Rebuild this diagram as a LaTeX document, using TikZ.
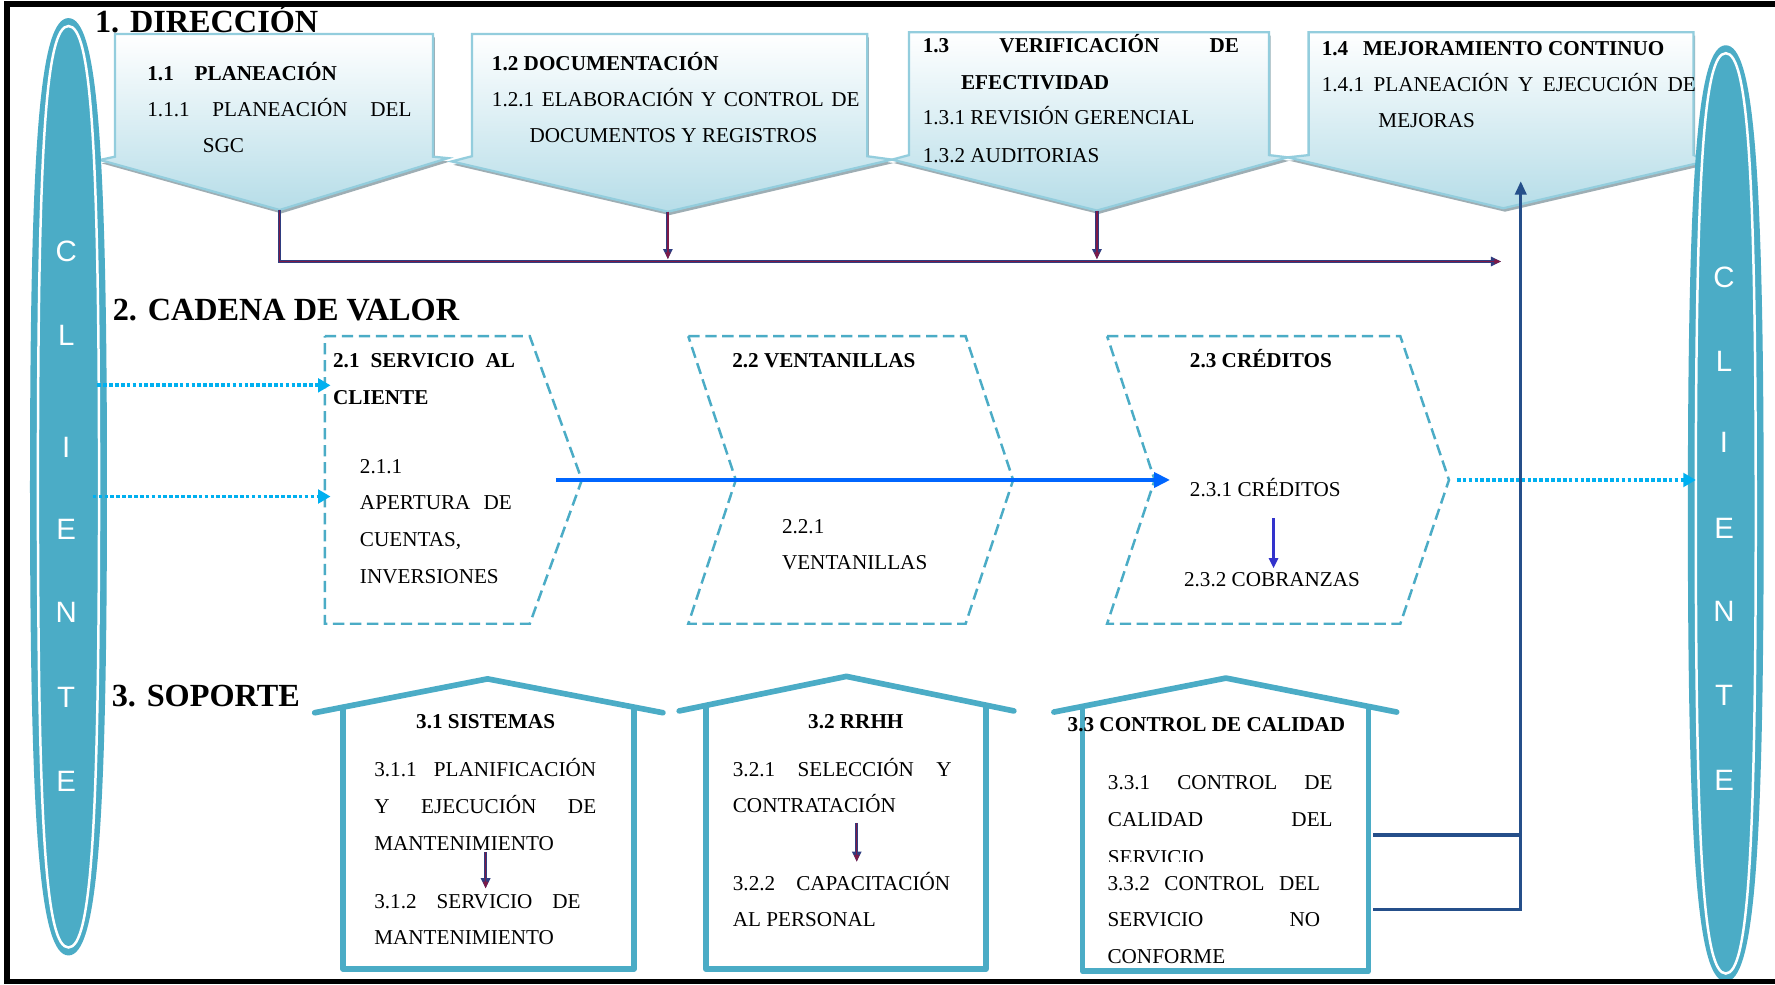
\documentclass[tikz,border=0pt]{standalone}
\usepackage{fontspec}
\setmainfont{Liberation Serif}
\newfontfamily\clientfont{Liberation Sans}
\usetikzlibrary{arrows.meta}

\definecolor{clteal}{HTML}{4BACC6}
\definecolor{callborder}{HTML}{93CDDD}
\definecolor{callbottom}{HTML}{B6DDE8}
\definecolor{callshadow}{HTML}{9EAEB4}
\definecolor{duoouter}{HTML}{2F3D80}
\definecolor{duoinner}{HTML}{7D1A48}
\definecolor{flowblue}{HTML}{0066FF}
\definecolor{skyblue}{HTML}{00B0F0}
\definecolor{stepblue}{HTML}{3333CC}
\definecolor{navyc}{HTML}{254F8A}

\newcommand{\txtsize}{\fontsize{18.7pt}{22pt}\selectfont}
\newcommand{\ttlsize}{\fontsize{28.5pt}{32pt}\selectfont}
% a justified line of given width
\newcommand{\jl}[2]{\makebox[#1pt][s]{#2}}
% elongated rounded body: centre x, centre y, half width, half height, options
\newcommand{\clientbody}[5]{%
  \path[#5] (#1,#2-#4) .. controls (#1+0.74*#3,#2-#4) and (#1+#3,#2-0.74*#4) .. (#1+#3,#2)
    .. controls (#1+#3,#2+0.74*#4) and (#1+0.74*#3,#2+#4) .. (#1,#2+#4)
    .. controls (#1-0.74*#3,#2+#4) and (#1-#3,#2+0.74*#4) .. (#1-#3,#2)
    .. controls (#1-#3,#2-0.74*#4) and (#1-0.74*#3,#2-#4) .. cycle;}
% down-arrow callout with drop shadow
\newcommand{\calloutpath}[1]{%
  \path[callshade, shift={(1.5,3)}] #1;
  \path[callout] #1;}

\tikzset{
  callout/.style={draw=callborder, line width=2pt, top color=white, bottom color=callbottom, line join=miter},
  callshade/.style={fill=callshadow},
  chevron/.style={draw=clteal, line width=2.2pt, dash pattern=on 10pt off 5pt},
  house/.style={draw=clteal, line width=5pt, line cap=round, line join=round},
  duo/.style={draw=duoouter, line width=2.8pt, -{Triangle[length=9pt,width=8pt]},
    postaction={draw=duoinner, line width=1.1pt, -{Triangle[length=6pt,width=4.5pt]}}},
  flowarrow/.style={draw=flowblue, line width=3.5pt, -{Triangle[length=14pt,width=13pt]}},
  skydot/.style={draw=skyblue, line width=3.4pt, dash pattern=on 3.2pt off 2pt, -{Triangle[length=11pt,width=12pt]}},
  steparrow/.style={draw=stepblue, line width=2.5pt, -{Triangle[length=9pt,width=8pt]}},
  navyconn/.style={draw=navyc, line width=2.8pt},
  txt/.style={anchor=base west, inner sep=0pt, font=\txtsize},
  btxt/.style={anchor=base west, inner sep=0pt, font=\txtsize\bfseries},
  ctxt/.style={anchor=base, inner sep=0pt, font=\txtsize\bfseries},
  ttl/.style={anchor=base west, inner sep=0pt, font=\ttlsize\bfseries},
  cl/.style={text=white, inner sep=0pt, font=\clientfont\fontsize{26pt}{28pt}\selectfont},
}

\begin{document}
\begin{tikzpicture}[x=1pt, y=-1pt]
\useasboundingbox (0,0) rectangle (1568,870);
\fill[white] (0,0) rectangle (1568,870);

% ---- 1. Dirección: four down-arrow callouts
\calloutpath{(101.6,30) -- (382.6,30) -- (382.6,138.4) -- (395.8,139.7) -- (247,185.5) -- (88.3,141.3) -- (101.6,138.4) -- cycle}
\calloutpath{(417,30) -- (766,30) -- (766,138) -- (788,141) -- (590,187) -- (399,142.6) -- (417,138) -- cycle}
\calloutpath{(803,28.5) -- (1121,28.5) -- (1121,137) -- (1137.5,139) -- (969,186) -- (788,141) -- (803,137) -- cycle}
\calloutpath{(1156,28.5) -- (1496,28.5) -- (1496,137) -- (1509,142) -- (1328,184) -- (1137.5,139) -- (1156,137) -- cycle}

\coordinate (p1top) at (247,185.5);
\coordinate (p1bend) at (247,231);
\coordinate (p1end) at (1326,231);
\coordinate (p2top) at (590,187);
\coordinate (p2end) at (590,229);
\coordinate (p3top) at (969,186);
\coordinate (p3end) at (969,229);
\draw[duo] (p1top) -- (p1bend) -- (p1end);
\draw[duo] (p2top) -- (p2end);
\draw[duo] (p3top) -- (p3end);

% ---- 2. Cadena de valor: dashed chevrons
\draw[chevron] (287,297) -- (468,297) -- (514,424) -- (468,551) -- (287,551) -- cycle;
\draw[chevron] (608,297) -- (853,297) -- (895,424) -- (853,551) -- (608,551) -- (650,424) -- cycle;
\draw[chevron] (978,297) -- (1237,297) -- (1280,424) -- (1237,551) -- (978,551) -- (1020,424) -- cycle;

\coordinate (flowstart) at (491,424);
\coordinate (flowend) at (1033.6,424);
\draw[flowarrow] (flowstart) -- (flowend);

\coordinate (cr1) at (1125,457.9);
\coordinate (cr2) at (1125,502);
\draw[steparrow] (cr1) -- (cr2);

% ---- 3. Soporte: houses
\draw[house] (278,629.6) -- (430.7,599.7) -- (585.6,629.6);
\draw[house] (303,625) -- (303,856) -- (560,856) -- (560,625);
\draw[house] (600,628) -- (747.7,597.5) -- (895.6,628);
\draw[house] (623.5,624) -- (623.5,856) -- (870.8,856) -- (870.8,624);
\draw[house] (931,629) -- (1083,599) -- (1233.8,629);
\draw[house] (956.3,625) -- (956.3,858) -- (1209,858) -- (1209,625);

\coordinate (h1a) at (429,753);
\coordinate (h1b) at (429,784.8);
\coordinate (h2a) at (756.8,726.8);
\coordinate (h2b) at (756.8,761.2);
\draw[duo] (h1a) -- (h1b);
\draw[duo] (h2a) -- (h2b);

% quality control feeding back to continuous improvement
\coordinate (q1) at (1213,737.6);
\coordinate (q2) at (1213,803.3);
\coordinate (qv1) at (1343.4,737.6);
\coordinate (qv2) at (1343.4,803.3);
\coordinate (qtop) at (1343.4,160);
\draw[navyconn] (q1) -- (qv1);
\draw[navyconn, -{Triangle[length=12pt,width=10pt]}] (q2) -- (qv2) -- (qtop);

% ---- client bodies
\clientbody{60.5}{430}{34}{414}{fill=clteal}
\clientbody{60.5}{430}{27}{407}{draw=white, line width=2.2pt}
\clientbody{1524.5}{453.5}{33.5}{413.5}{fill=clteal}
\clientbody{1524.5}{453.5}{26.5}{406.5}{draw=white, line width=2.2pt}

\node[cl] (lc1) at (58.5,222) {C};
\node[cl] (lc2) at (58.5,296) {L};
\node[cl] (lc3) at (58.5,395) {I};
\node[cl] (lc4) at (58.5,467.5) {E};
\node[cl] (lc5) at (58.5,541) {N};
\node[cl] (lc6) at (58.5,616) {T};
\node[cl] (lc7) at (58.5,690) {E};
\node[cl] (rc1) at (1523,245) {C};
\node[cl] (rc2) at (1523,319.5) {L};
\node[cl] (rc3) at (1523,391) {I};
\node[cl] (rc4) at (1523,466.6) {E};
\node[cl] (rc5) at (1523,540) {N};
\node[cl] (rc6) at (1523,614) {T};
\node[cl] (rc7) at (1523,689) {E};

% dotted flows from and to the client
\coordinate (d1s) at (86,340.4);
\coordinate (d1e) at (292,340.4);
\coordinate (d2s) at (82,438.6);
\coordinate (d2e) at (292,438.6);
\coordinate (d3s) at (1287,424);
\coordinate (d3e) at (1498,424);
\draw[skydot] (d1s) -- (d1e);
\draw[skydot] (d2s) -- (d2e);
\draw[skydot] (d3s) -- (d3e);

% ---- texts
\node[ttl] (ttl1) at (83.8,29) {1. DIRECCIÓN};
\node[ttl] (ttl2) at (99.5,282.7) {2. CADENA DE VALOR};
\node[ttl] (ttl3) at (98.6,623.7) {3. SOPORTE};

\node[btxt] (t11) at (130,70.7) {\makebox[41.7pt][l]{1.1}PLANEACIÓN};
\node[txt] (t111a) at (130,103.3) {\jl{233.4}{1.1.1 PLANEACIÓN DEL}};
\node[txt] (t111b) at (179,134.8) {SGC};

\node[btxt] (t12) at (434.4,62) {1.2 DOCUMENTACIÓN};
\node[txt] (t121a) at (434.4,94) {\jl{324.8}{1.2.1 ELABORACIÓN Y CONTROL DE}};
\node[txt] (t121b) at (467.6,126) {DOCUMENTOS Y REGISTROS};

\node[btxt] (t13a) at (815,46) {\jl{279.3}{1.3 VERIFICACIÓN DE}};
\node[btxt] (t13b) at (848.8,79.5) {EFECTIVIDAD};
\node[txt] (t131) at (815,110) {1.3.1 REVISIÓN GERENCIAL};
\node[txt] (t132) at (815,143.5) {1.3.2 AUDITORIAS};

\node[btxt] (t14) at (1167.5,49) {\makebox[36.5pt][l]{1.4}MEJORAMIENTO CONTINUO};
\node[txt] (t141a) at (1167.5,81) {\jl{330.3}{1.4.1 PLANEACIÓN Y EJECUCIÓN DE}};
\node[txt] (t141b) at (1217.5,113) {MEJORAS};

\node[btxt] (t21a) at (294.1,324.5) {\jl{160.6}{2.1 SERVICIO AL}};
\node[btxt] (t21b) at (294.1,357) {CLIENTE};
\node[txt] (t211a) at (317.8,418) {2.1.1};
\node[txt] (t211b) at (317.8,450.5) {\jl{134.2}{APERTURA DE}};
\node[txt] (t211c) at (317.8,483) {CUENTAS,};
\node[txt] (t211d) at (317.8,515.8) {INVERSIONES};

\node[btxt] (t22) at (646.7,324.5) {2.2 VENTANILLAS};
\node[txt] (t221a) at (690.6,471) {2.2.1};
\node[txt] (t221b) at (690.6,503.5) {VENTANILLAS};

\node[btxt] (t23) at (1051,324.5) {2.3 CRÉDITOS};
\node[txt] (t231) at (1051,438.8) {2.3.1 CRÉDITOS};
\node[txt] (t232) at (1045.8,518.3) {2.3.2 COBRANZAS};

\node[ctxt] (t31) at (429,643.4) {3.1 SISTEMAS};
\node[txt] (t311a) at (330.5,685.6) {\jl{196}{3.1.1 PLANIFICACIÓN}};
\node[txt] (t311b) at (330.5,718.5) {\jl{196}{Y EJECUCIÓN DE}};
\node[txt] (t311c) at (330.5,751) {MANTENIMIENTO};
\node[txt] (t312a) at (330.5,802.5) {\jl{182.2}{3.1.2 SERVICIO DE}};
\node[txt] (t312b) at (330.5,834) {MANTENIMIENTO};

\node[ctxt] (t32) at (756,643.4) {3.2 RRHH};
\node[txt] (t321a) at (647.2,685.6) {\jl{193.2}{3.2.1 SELECCIÓN Y}};
\node[txt] (t321b) at (647.2,718) {CONTRATACIÓN};
\node[txt] (t322a) at (647.2,786.3) {\jl{192}{3.2.2 CAPACITACIÓN}};
\node[txt] (t322b) at (647.2,818.7) {AL PERSONAL};

\node[btxt] (t33) at (943,646.4) {3.3 CONTROL DE CALIDAD};
\node[txt] (t331a) at (978.5,697.3) {\jl{198.5}{3.3.1 CONTROL DE}};
\node[txt] (t331b) at (978.5,729.7) {\jl{198.5}{CALIDAD DEL}};
\begin{scope}
  \clip (970,735) rectangle (1200,761.2);
  \node[txt] (t331c) at (978.5,763.3) {SERVICIO};
\end{scope}
\node[txt] (t332a) at (978.2,786.2) {\jl{187.8}{3.3.2 CONTROL DEL}};
\node[txt] (t332b) at (978.2,818.6) {\jl{187.8}{SERVICIO NO}};
\node[txt] (t332c) at (978.2,851) {CONFORME};

% ---- outer frame
\draw[line width=5pt] (1568,3.7) -- (6.2,3.7) -- (6.2,867) -- (1568,867);
\end{tikzpicture}
\end{document}
